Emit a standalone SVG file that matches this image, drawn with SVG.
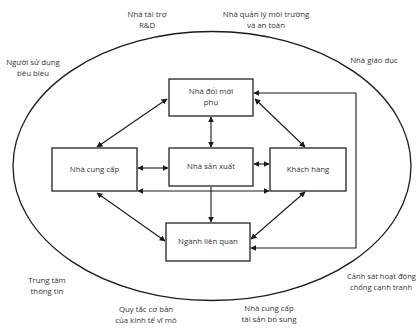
<svg xmlns="http://www.w3.org/2000/svg" width="418" height="329" viewBox="0 0 418 329">
<defs>
<marker id="ah" viewBox="0 0 10 10" refX="9" refY="5" markerWidth="6" markerHeight="6" markerUnits="userSpaceOnUse" orient="auto-start-reverse">
<path d="M0,0 L10,5 L0,10 Z" fill="#1a1a1a"/>
</marker>
<style>
.box{fill:#fff;stroke:#333;stroke-width:1.4}
.ln{fill:none;stroke:#1a1a1a;stroke-width:1.1}
.t{font-family:"Open Sans","Liberation Sans",sans-serif;font-size:7.8px;fill:#333;text-anchor:middle}
.ts{font-family:"Open Sans","Liberation Sans",sans-serif;font-size:7.6px;fill:#333}
</style>
</defs>
<rect width="418" height="329" fill="#fff"/>
<ellipse cx="212" cy="166" rx="199" ry="134.5" fill="none" stroke="#1a1a1a" stroke-width="1.3"/>

<g id="connectors">
<path class="ln" d="M97,147 L167,99" marker-start="url(#ah)" marker-end="url(#ah)"/>
<path class="ln" d="M255,99 L305,147" marker-start="url(#ah)" marker-end="url(#ah)"/>
<path class="ln" d="M211,117 L211,147" marker-start="url(#ah)" marker-end="url(#ah)"/>
<path class="ln" d="M138,168 L168,168" marker-start="url(#ah)" marker-end="url(#ah)"/>
<path class="ln" d="M254,164 L269,164" marker-start="url(#ah)" marker-end="url(#ah)"/>
<path class="ln" d="M138,191 L269,191" marker-start="url(#ah)" marker-end="url(#ah)"/>
<path class="ln" d="M211,187 L211,222" marker-end="url(#ah)"/>
<path class="ln" d="M97,193 L165,241" marker-start="url(#ah)" marker-end="url(#ah)"/>
<path class="ln" d="M305,192 L251,239" marker-start="url(#ah)" marker-end="url(#ah)"/>
<path class="ln" d="M356,93 L356,248 L251,248" marker-end="url(#ah)"/>
<path class="ln" d="M356,93 L254,93" marker-end="url(#ah)"/>
</g>

<g id="n-doimoi">
<rect class="box" x="169" y="79" width="84" height="37"/>
<text class="t" x="211" y="94">Nhà đổi mới</text>
<text class="t" x="211" y="105">phụ</text>
</g>
<g id="n-cungcap">
<rect class="box" x="52" y="148" width="85" height="43"/>
<text class="t" x="94.5" y="172">Nhà cung cấp</text>
</g>
<g id="n-sanxuat">
<rect class="box" x="169" y="148" width="84" height="38"/>
<text class="t" x="211" y="169">Nhà sản xuất</text>
</g>
<g id="n-khachhang">
<rect class="box" x="270" y="148" width="76" height="43"/>
<text class="t" x="308" y="172">Khách hàng</text>
</g>
<g id="n-nganh">
<rect class="box" x="166" y="223" width="84" height="38"/>
<text class="t" x="208" y="244">Ngành liên quan</text>
</g>

<g id="outer-labels">
<text class="t" x="147" y="17">Nhà tài trợ</text>
<text class="t" x="147" y="28">R&amp;D</text>
<text class="t" x="266" y="17">Nhà quản lý môi trường</text>
<text class="t" x="266" y="28">và an toàn</text>
<text class="t" x="374" y="63">Nhà giáo dục</text>
<text class="t" x="33" y="65">Người sử dụng</text>
<text class="t" x="33" y="76">tiêu biểu</text>
<text class="t" x="47" y="283">Trung tâm</text>
<text class="t" x="47" y="294">thông tin</text>
<text class="t" x="146" y="312">Quy tắc cơ bản</text>
<text class="t" x="146" y="323">của kinh tế vĩ mô</text>
<text class="t" x="269" y="311">Nhà cung cấp</text>
<text class="t" x="269" y="322">tài sản bổ sung</text>
<text class="ts" x="347" y="279">Cảnh sát hoạt động</text>
<text class="ts" x="350" y="290">chống cạnh tranh</text>
</g>
</svg>
